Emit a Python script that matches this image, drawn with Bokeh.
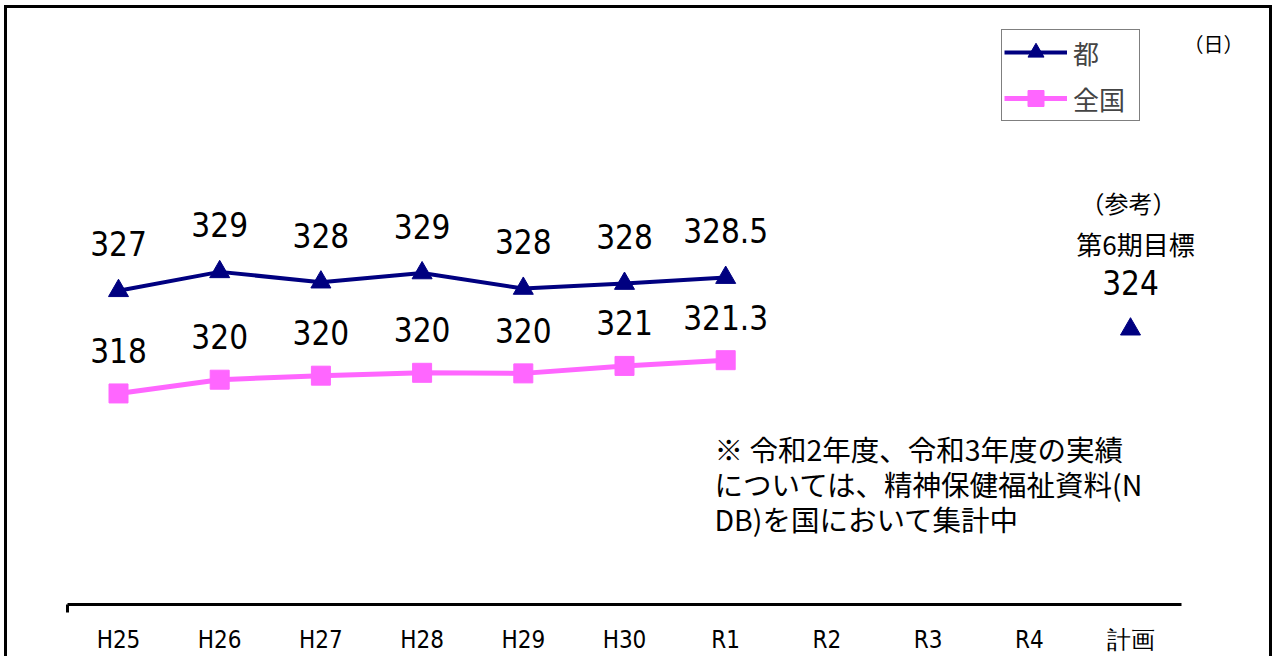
from bokeh.plotting import figure
from bokeh.models import Range1d, FixedTicker, Legend, LegendItem, Label
from bokeh.core.properties import value
from bokeh.embed import file_html
from bokeh.resources import INLINE

# ---- data ----
categories = ["H25", "H26", "H27", "H28", "H29", "H30", "R1", "R2", "R3", "R4", "計画"]
actual_categories = ["H25", "H26", "H27", "H28", "H29", "H30", "R1"]
tokyo_values = [327.35, 329.0, 328.1, 328.9, 327.55, 327.98, 328.5]
tokyo_labels = ["327", "329", "328", "329", "328", "328", "328.5"]
national_values = [318.4, 319.6, 319.95, 320.2, 320.15, 320.8, 321.3]
national_labels = ["318", "320", "320", "320", "320", "321", "321.3"]
target_category = "計画"
target_value = 324
target_label = "324"
series_names = ["都", "全国"]
unit_text = "（日）"
target_title = ["（参考）", "第6期目標"]
note_lines = ["※ 令和2年度、令和3年度の実績",
              "については、精神保健福祉資料(N",
              "DB)を国において集計中"]

# ---- layout geometry (page pixels) ----
W, H = 1268, 651
FIG_LEFT, FIG_TOP = 7, 8   # canvas origin on the page (after margin + border)
AXIS_Y = 604               # page y of the category axis
CAT0_X = 118               # page x of first category
CAT_STEP = 101.2           # px per category
PX_PER_UNIT = 11.47        # px per day
Y_BASE = 300

x_start = (FIG_LEFT - CAT0_X) / CAT_STEP
x_end = (FIG_LEFT + W - CAT0_X) / CAT_STEP
frame_h = AXIS_Y - FIG_TOP
y_end = Y_BASE + frame_h / PX_PER_UNIT


def sx(page_x):
    return page_x - FIG_LEFT


def sy(page_y):
    return AXIS_Y - page_y


NAVY = "#000080"
PINK = "#FF66FF"
NUM_FONT = "'DejaVu Sans Condensed', 'Liberation Sans', sans-serif"
JP_FONT = "Noto Sans CJK JP"

p = figure(width=W, height=H, output_backend="svg", toolbar_location=None,
           x_range=Range1d(x_start, x_end), y_range=Range1d(Y_BASE, y_end),
           y_axis_location=None, min_border_left=0, min_border_right=0,
           min_border_top=0, min_border_bottom=H - frame_h)
p.grid.visible = False
p.outline_line_color = None
p.background_fill_color = "white"
p.border_fill_color = "white"
p.styles = {"margin-left": "4px", "margin-top": "5px",
            "border-top": "3px solid black", "border-left": "3px solid black",
            "border-right": "3px solid black"}

n_cat = len(categories)
ax = p.xaxis[0]
ax.ticker = FixedTicker(ticks=list(range(n_cat)), minor_ticks=[-0.5])
ax.major_label_overrides = {i: c for i, c in enumerate(categories)}
ax.bounds = (-0.5, n_cat - 0.5)
ax.axis_line_width = 3
ax.axis_line_color = "black"
ax.major_tick_line_color = None
ax.minor_tick_line_color = "black"
ax.minor_tick_line_width = 3
ax.minor_tick_in = 0
ax.minor_tick_out = 8
ax.major_label_text_font = NUM_FONT
ax.major_label_text_font_size = "24px"
ax.major_label_text_color = "black"
ax.major_label_standoff = 13

xa = [categories.index(c) for c in actual_categories]

l1 = p.line(xa, tokyo_values, line_color=NAVY, line_width=4)
s1 = p.scatter(xa, tokyo_values, marker="triangle", size=20, color=NAVY)
l2 = p.line(xa, national_values, line_color=PINK, line_width=5)
s2 = p.scatter(xa, national_values, marker="square", size=19, color=PINK)

xt = categories.index(target_category)
p.scatter([xt], [target_value], marker="triangle", size=20, color=NAVY)

label_style = dict(text_align="center", text_baseline="middle",
                   text_font=value(NUM_FONT), text_font_size="33px", text_color="black")
p.text(xa, tokyo_values, text=tokyo_labels, y_offset=-47, **label_style)
p.text(xa, national_values, text=national_labels, y_offset=-43, **label_style)
p.text([xt], [target_value], text=[target_label], y_offset=-47, **label_style)

legend = Legend(items=[LegendItem(label=series_names[0], renderers=[l1, s1]),
                       LegendItem(label=series_names[1], renderers=[l2, s2])],
                location=(sx(1001), sy(121)), margin=0, padding=2, spacing=6,
                glyph_width=63, glyph_height=40, label_height=40, label_standoff=6,
                label_width=64,
                label_text_font=JP_FONT, label_text_font_size="26px",
                border_line_color="black", border_line_width=1.5,
                background_fill_color="white", background_fill_alpha=1.0)
p.add_layout(legend)


def add_label(text, page_x, page_y, size, align="center", font=JP_FONT):
    p.add_layout(Label(x=sx(page_x), y=sy(page_y), x_units="screen", y_units="screen",
                       text=text, text_align=align, text_baseline="middle",
                       text_font=font, text_font_size=size, text_color="black"))


add_label(unit_text, 1213, 43, "20px")
add_label(target_title[0], 1128, 202, "24px")
add_label(target_title[1], 1135, 243, "26px")
for i, line in enumerate(note_lines):
    add_label(line, 714, 448 + 35 * i, "28.5px", align="left")

open("out.html", "w").write(file_html(p, INLINE))
